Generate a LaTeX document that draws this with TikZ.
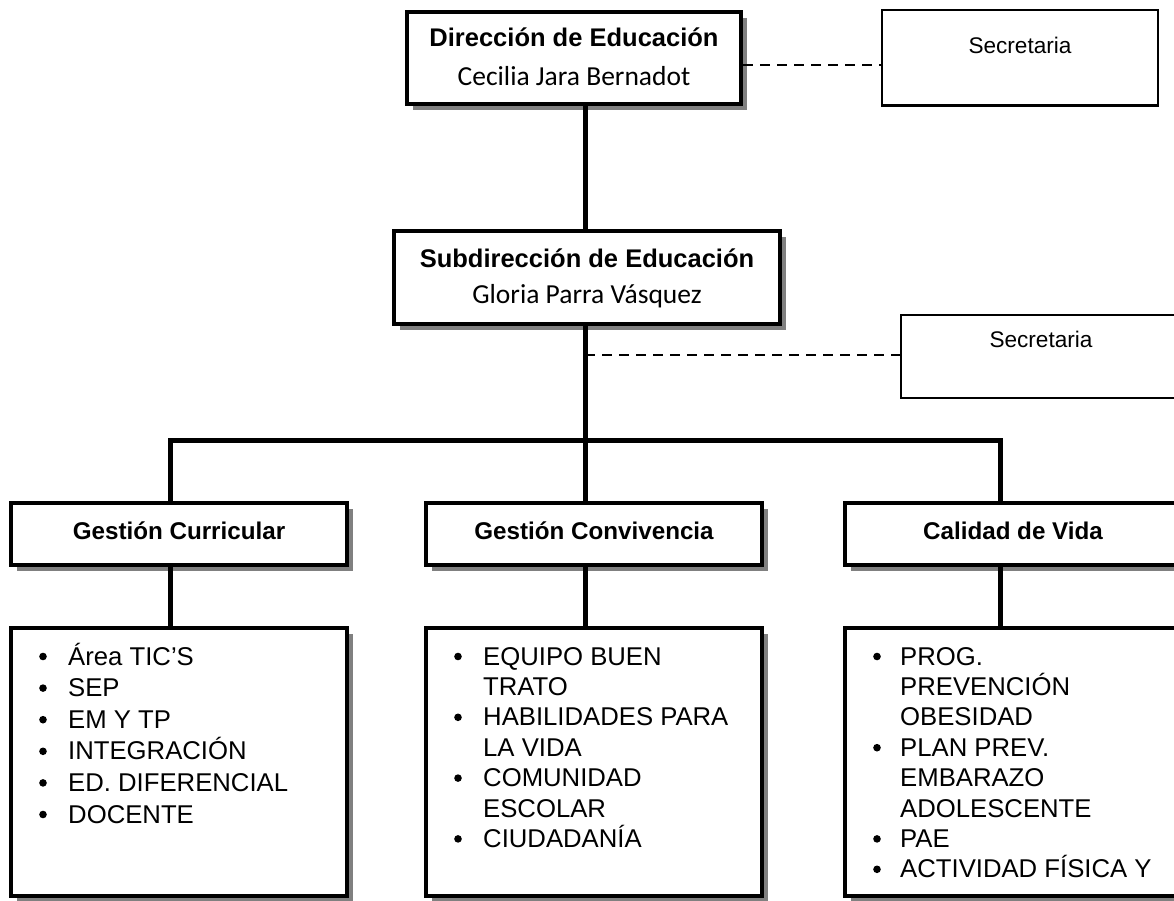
\documentclass[tikz,border=0pt]{standalone}
\usepackage{fontspec}
\setmainfont{Liberation Sans}
\newfontfamily\calib{Carlito}
\usetikzlibrary{shadows}
\begin{document}
\begin{tikzpicture}[x=1pt,y=-1pt,
  sbox/.style={draw, line width=4pt, fill=white, inner sep=0pt,
    general shadow={fill=black!50, shadow xshift=6pt, shadow yshift=-6pt}},
  secbox/.style={draw, line width=2.6pt, fill=white, inner sep=0pt},
  conn/.style={line width=5pt},
  dconn/.style={line width=2.6pt, dash pattern=on 10pt off 7pt},
  title/.style={font=\bfseries\fontsize{25.5}{30}\selectfont, anchor=base, inner sep=0pt},
  pname/.style={font=\calib\fontsize{27.5}{32}\selectfont, anchor=base, inner sep=0pt},
  sectxt/.style={font=\fontsize{22.6}{27}\selectfont, anchor=base, inner sep=0pt},
  gtxt/.style={font=\bfseries\fontsize{24.2}{28}\selectfont, anchor=base, inner sep=0pt},
  item/.style={font=\fontsize{25.7}{30}\selectfont, anchor=base west, inner sep=0pt},
]
\useasboundingbox (0,0) rectangle (1174,901);

% top level
\node[sbox, minimum width=334pt, minimum height=92pt] (dir) at (574,58) {};
\node[title] (dirT) at (574,47) {Dirección de Educación};
\node[pname] (dirN) at (574,86) {Cecilia Jara Bernadot};

\node[secbox, minimum width=276pt, minimum height=95.5pt] (sec1) at (1020,57.75) {};
\node[sectxt] (sec1T) at (1020,54) {Secretaria};

% sub level
\node[sbox, minimum width=386pt, minimum height=93pt] (sub) at (587,277.5) {};
\node[title] (subT) at (587,267) {Subdirección de Educación};
\node[pname] (subN) at (587,303) {Gloria Parra Vásquez};

\node[secbox, minimum width=280pt, minimum height=83pt] (sec2) at (1041,356.5) {};
\node[sectxt] (sec2T) at (1041,347) {Secretaria};

% gestion boxes
\node[sbox, minimum width=336pt, minimum height=62.5pt] (gc) at (179,533.75) {};
\node[gtxt] (gcT) at (179,539) {Gestión Curricular};
\node[sbox, minimum width=336pt, minimum height=62.5pt] (gm) at (594,533.75) {};
\node[gtxt] (gmT) at (594,539) {Gestión Convivencia};
\node[sbox, minimum width=336pt, minimum height=62.5pt] (gv) at (1013,533.75) {};
\node[gtxt] (gvT) at (1013,539) {Calidad de Vida};

% list boxes
\node[sbox, minimum width=336pt, minimum height=268pt] (lc) at (179,762) {};
\node[sbox, minimum width=336pt, minimum height=268pt] (lm) at (594,762) {};
\node[sbox, minimum width=336pt, minimum height=268pt] (lv) at (1013,762) {};

% connector coordinates
\coordinate (xL) at (170,440);
\coordinate (xM) at (585,440);
\coordinate (xR) at (1000,440);
\coordinate (d1) at (0,65);
\coordinate (j2) at (585,355);

\draw[conn] (dir.south -| xM) -- (sub.north -| xM);
\draw[conn] (sub.south -| xM) -- (xM);
\draw[conn, line join=miter] (gc.north -| xL) -- (xL) -- (xR) -- (gv.north -| xR);
\draw[conn] (xM) -- (gm.north -| xM);
\draw[conn] (gc.south -| xL) -- (lc.north -| xL);
\draw[conn] (gm.south -| xM) -- (lm.north -| xM);
\draw[conn] (gv.south -| xR) -- (lv.north -| xR);

\draw[dconn] (dir.east |- d1) -- (sec1.west |- d1);
\draw[dconn] (j2) -- (sec2.west |- j2);

% list items
\foreach \t [count=\i] in {Área TIC’S, SEP, EM Y TP, INTEGRACIÓN, ED. DIFERENCIAL, DOCENTE}{
  \node[item] (lcI\i) at (68,{665+(\i-1)*31.6}) {\t};
  \fill (43,{656.5+(\i-1)*31.6}) circle (3.8pt);
}
\foreach \b/\t [count=\i] in {1/EQUIPO BUEN, 0/TRATO, 1/HABILIDADES PARA, 0/LA VIDA, 1/COMUNIDAD, 0/ESCOLAR, 1/CIUDADANÍA}{
  \node[item] (lmI\i) at (483,{665+(\i-1)*30.4}) {\t};
  \ifnum\b=1 \fill (458,{656.5+(\i-1)*30.4}) circle (3.8pt); \fi
}
\foreach \b/\t [count=\i] in {1/PROG., 0/PREVENCIÓN, 0/OBESIDAD, 1/PLAN PREV., 0/EMBARAZO, 0/ADOLESCENTE, 1/PAE, 1/ACTIVIDAD FÍSICA Y}{
  \node[item] (lvI\i) at (900,{665+(\i-1)*30.4}) {\t};
  \ifnum\b=1 \fill (877,{656.5+(\i-1)*30.4}) circle (3.8pt); \fi
}
\end{tikzpicture}
\end{document}
